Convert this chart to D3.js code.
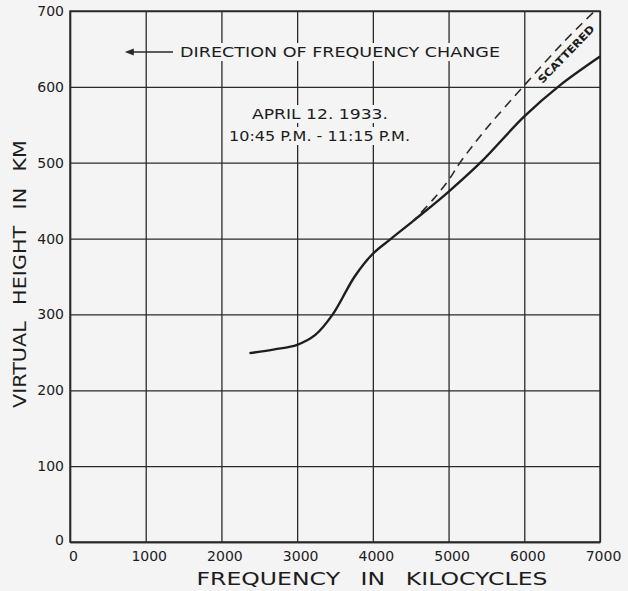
<!DOCTYPE html>
<html>
<head>
<meta charset="utf-8">
<script src="https://cdn.jsdelivr.net/npm/d3@7"></script>
<style>
  html, body { margin: 0; padding: 0; background: #f4f4f4; }
  svg { display: block; }
  text { font-family: "DejaVu Sans", sans-serif; fill: #1c1c1c; }
</style>
</head>
<body>
<svg id="chart" width="628" height="591"></svg>
<script>
// ---- data ----
const freqTicks = [0, 1000, 2000, 3000, 4000, 5000, 6000, 7000];
const heightTicks = [0, 100, 200, 300, 400, 500, 600, 700];

// observed virtual height curve (solid)
const solidFreq   = [2370, 2700, 3000, 3240, 3470, 3760, 4000, 4230, 4580, 4980, 5420, 6000, 6470, 7000];
const solidHeight = [249,  254,  260,  273,  300,  350,  380,  399,  427,  460,  500,  561,  602,  640];

// scattered branch (dashed)
const dashFreq   = [4500, 4800, 5000, 5150, 5500, 6000, 6500, 6930];
const dashHeight = [420,  452,  477,  500,  545,  602,  657,  700];

const xTitle = "FREQUENCY IN KILOCYCLES";
const yTitle = "VIRTUAL HEIGHT IN KM";
const noteDirection = "DIRECTION OF FREQUENCY CHANGE";
const noteDate = "APRIL 12. 1933.";
const noteTime = "10:45 P.M. - 11:15 P.M.";
const noteScattered = "SCATTERED";

// ---- layout ----
const W = 628, H = 591;
const m = { left: 70, right: 28, top: 11, bottom: 49 };
const iw = W - m.left - m.right, ih = H - m.top - m.bottom;
const ink = "#2a2a2a";
const bg = "#f4f4f4";

const svg = d3.select("#chart");
svg.append("rect").attr("width", W).attr("height", H).attr("fill", bg);
const g = svg.append("g").attr("transform", `translate(${m.left},${m.top})`);

const x = d3.scaleLinear().domain([0, 7000]).range([0, iw]);
const y = d3.scaleLinear().domain([0, 700]).range([ih, 0]);

// grid via axes
const xAxis = g.append("g").attr("transform", `translate(0,${ih})`)
  .call(d3.axisBottom(x).tickValues(freqTicks).tickSize(-ih).tickSizeOuter(0).tickFormat(d3.format("d")));
const yAxis = g.append("g")
  .call(d3.axisLeft(y).tickValues(heightTicks).tickSize(-iw).tickSizeOuter(0).tickFormat(d3.format("d")));

[xAxis, yAxis].forEach(a => {
  a.select(".domain").attr("stroke", ink).attr("stroke-width", 1.4);
  a.selectAll(".tick line").attr("stroke", ink).attr("stroke-width", 1.3);
  a.selectAll(".tick text").attr("fill", "#1c1c1c").style("font-size", "14px")
    .style("font-family", '"DejaVu Sans", sans-serif');
});
xAxis.selectAll(".tick text").attr("y", 9).attr("dx", 3);
yAxis.selectAll(".tick text").attr("x", -6);
yAxis.selectAll(".tick").filter(d => d === 0).select("text").attr("x", -6).attr("dy", "0.2em");

// border
g.append("rect").attr("width", iw).attr("height", ih)
  .attr("fill", "none").attr("stroke", ink).attr("stroke-width", 1.4);

// annotations with background masks
const notes = g.append("g");
function label(txt, cx, cy, size, len) {
  const t = notes.append("text").attr("x", cx).attr("y", cy)
    .attr("text-anchor", "middle").attr("dominant-baseline", "central")
    .style("font-size", size + "px").text(txt);
  if (len) t.attr("textLength", len).attr("lengthAdjust", "spacingAndGlyphs");
  const b = t.node().getBBox();
  notes.insert("rect", () => t.node()).attr("x", b.x - 3).attr("y", b.y - 1)
    .attr("width", b.width + 6).attr("height", b.height + 2).attr("fill", bg);
  return t;
}
label(noteDirection, 340 - m.left, 52 - m.top, 14, 320);
label(noteDate, 320 - m.left, 114 - m.top, 14, 136);
label(noteTime, 319.5 - m.left, 136 - m.top, 14, 181);

// arrow
const ay = 52 - m.top;
g.append("line").attr("x1", x(750) + 4).attr("x2", x(1360)).attr("y1", ay).attr("y2", ay)
  .attr("stroke", ink).attr("stroke-width", 1.3);
g.append("path").attr("d", `M${x(750) - 2},${ay} l9,-3.5 l0,7 z`).attr("fill", ink);

// curves
const line = d3.line().x(d => x(d[0])).y(d => y(d[1])).curve(d3.curveCatmullRom.alpha(0.5));
g.append("path").datum(solidFreq.map((f, i) => [f, solidHeight[i]]))
  .attr("d", line).attr("fill", "none").attr("stroke", "#1e1e1e").attr("stroke-width", 2.4);
g.append("path").datum(dashFreq.map((f, i) => [f, dashHeight[i]]))
  .attr("d", line).attr("fill", "none").attr("stroke", "#2a2a2a").attr("stroke-width", 1.6)
  .attr("stroke-dasharray", "9,6");

// scattered label
g.append("text")
  .attr("transform", `translate(${566 - m.left},${54 - m.top}) rotate(-46)`)
  .attr("text-anchor", "middle").attr("dominant-baseline", "central")
  .style("font-size", "10.5px").style("font-weight", "bold")
  .attr("textLength", 76).attr("lengthAdjust", "spacingAndGlyphs")
  .text(noteScattered);

// axis titles
svg.append("text").attr("x", 372).attr("y", 578)
  .attr("text-anchor", "middle").attr("dominant-baseline", "central")
  .style("font-size", "18px").attr("textLength", 351).attr("lengthAdjust", "spacingAndGlyphs")
  .style("word-spacing", "10px").text(xTitle);
svg.append("text")
  .attr("transform", "translate(20,274) rotate(-90)")
  .attr("text-anchor", "middle").attr("dominant-baseline", "central")
  .style("font-size", "17px").attr("textLength", 268).attr("lengthAdjust", "spacingAndGlyphs")
  .style("word-spacing", "8px").text(yTitle);
</script>
</body>
</html>
